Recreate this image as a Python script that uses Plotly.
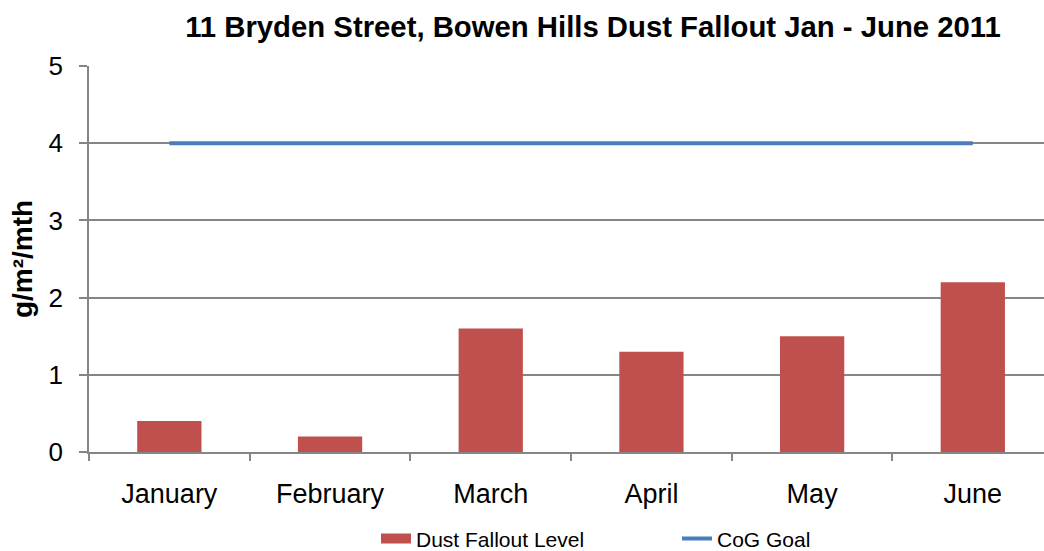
import plotly.graph_objects as go

months = ["January", "February", "March", "April", "May", "June"]
dust_fallout = [0.4, 0.2, 1.6, 1.3, 1.5, 2.2]
cog_goal = [4, 4, 4, 4, 4, 4]
y_ticks = [0, 1, 2, 3, 4, 5]

FONT = "Liberation Sans, Arial, sans-serif"
GRID = "#868686"
RED = "#c0504d"
BLUE = "#4a7ebb"

fig = go.Figure()
fig.add_trace(go.Bar(
    x=months, y=dust_fallout, name="Dust Fallout Level", showlegend=False,
    marker=dict(color=RED, line=dict(width=0)), width=0.4,
))
# legend proxy for the bar series (wide rectangle like the original legend key)
fig.add_trace(go.Scatter(
    x=[None], y=[None], name="Dust Fallout Level", mode="lines",
    line=dict(color=RED, width=10), legendrank=1,
))
fig.add_trace(go.Scatter(
    x=months, y=cog_goal, name="CoG Goal", mode="lines",
    line=dict(color=BLUE, width=4), legendrank=2,
))

fig.update_layout(
    width=1044, height=551,
    margin=dict(l=89, r=0, t=66, b=99, autoexpand=False),
    paper_bgcolor="white", plot_bgcolor="white",
    font=dict(family=FONT, color="black"),
    title=dict(
        text="<b>11 Bryden Street, Bowen Hills Dust Fallout Jan - June 2011</b>",
        font=dict(size=29.3, family=FONT, color="black"),
        x=593 / 1044, xanchor="center", xref="container",
        y=1 - 27 / 551, yanchor="middle", yref="container",
    ),
    showlegend=True,
    legend=dict(
        orientation="h", x=(376 - 89) / 955, xref="paper", xanchor="left",
        y=-0.225, yanchor="middle",
        font=dict(size=21, family=FONT, color="black"),
        entrywidth=256, entrywidthmode="pixels",
        traceorder="normal",
        bgcolor="rgba(0,0,0,0)",
    ),
    bargap=0.6,
)

fig.update_xaxes(
    type="category", range=[-0.5, 5.443],
    showline=True, linecolor=GRID, linewidth=1.5,
    ticks="outside", tickson="boundaries", ticklen=7, tickcolor=GRID, tickwidth=1.5,
    tickfont=dict(size=27, family=FONT, color="black"),
    tickangle=0, ticklabelstandoff=17,
    showgrid=False, zeroline=False,
)
fig.update_yaxes(
    range=[0, 5], tickvals=y_ticks,
    showline=True, linecolor=GRID, linewidth=1.5,
    ticks="outside", ticklen=8, tickcolor=GRID, tickwidth=1.5,
    tickfont=dict(size=26, family=FONT, color="black"),
    ticklabelstandoff=11,
    showgrid=True, gridcolor=GRID, gridwidth=1.5,
    zeroline=False,
    title=dict(text="<b>g/m²/mth</b>", font=dict(size=28, family=FONT, color="black"), standoff=8),
)

fig.write_html(
    "out.html",
    config={"displayModeBar": False},
    post_script="document.body.style.margin='0';document.body.style.overflow='hidden';",
)
